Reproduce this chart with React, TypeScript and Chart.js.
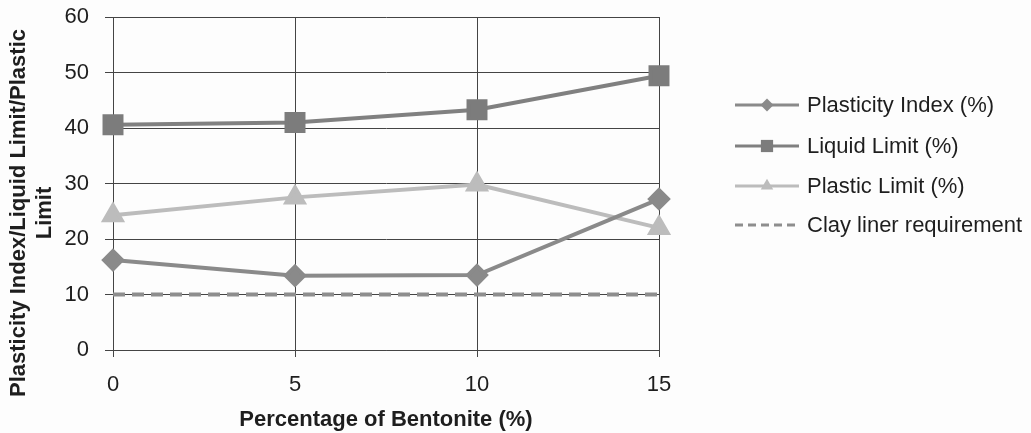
import React, { useEffect, useRef } from "react";
import { Chart, registerables } from "chart.js";

Chart.register(...registerables);

const bentonite = [0, 5, 10, 15];
const plasticityIndex = [16.2, 13.4, 13.5, 27.2];
const liquidLimit = [40.6, 41.0, 43.3, 49.4];
const plasticLimit = [24.3, 27.5, 29.8, 22.0];
const clayLiner = [10, 10, 10, 10];
const seriesNames = ["Plasticity Index (%)", "Liquid Limit (%)", "Plastic Limit (%)", "Clay liner requirement"];
const xTitle = "Percentage of Bentonite (%)";
const yTitle = ["Plasticity Index/Liquid Limit/Plastic", "Limit"];

const FONT = "'Liberation Sans', Arial, sans-serif";
const TEXT = "#1e1e1e";

const toPoints = (ys: number[]) => bentonite.map((x, i) => ({ x, y: ys[i] }));

const bgPlugin = {
  id: "bg",
  beforeDraw(chart: any) {
    const ctx = chart.ctx;
    ctx.save();
    ctx.fillStyle = "#fdfdfd";
    ctx.fillRect(0, 0, chart.width, chart.height);
    ctx.restore();
  },
};

const yTitlePlugin = {
  id: "yTitle",
  afterDraw(chart: any) {
    const ctx = chart.ctx;
    ctx.save();
    ctx.fillStyle = TEXT;
    ctx.font = `bold 22px ${FONT}`;
    ctx.textAlign = "center";
    ctx.textBaseline = "middle";
    const xs = [19, 45];
    yTitle.forEach((t, i) => {
      ctx.save();
      ctx.translate(xs[i], 213);
      ctx.rotate(-Math.PI / 2);
      ctx.fillText(t, 0, 0);
      ctx.restore();
    });
    ctx.restore();
  },
};

const legendPlugin = {
  id: "customLegend",
  afterDraw(chart: any) {
    const ctx = chart.ctx;
    const x0 = 735;
    const x1 = 799;
    const ys = [105, 146, 186, 225];
    ctx.save();
    chart.data.datasets.forEach((ds: any, i: number) => {
      const y = ys[i];
      ctx.strokeStyle = ds.borderColor;
      ctx.lineWidth = 3;
      ctx.setLineDash(ds.borderDash && ds.borderDash.length ? [8, 5] : []);
      ctx.beginPath();
      ctx.moveTo(x0, y);
      ctx.lineTo(x1, y);
      ctx.stroke();
      ctx.setLineDash([]);
      if (ds.pointRadius > 0) {
        const r = ds.pointRadius * 0.72;
        ctx.fillStyle = ds.pointBackgroundColor;
        ctx.beginPath();
        const cx = (x0 + x1) / 2;
        if (ds.pointStyle === "rectRot") {
          ctx.moveTo(cx - r, y);
          ctx.lineTo(cx, y - r);
          ctx.lineTo(cx + r, y);
          ctx.lineTo(cx, y + r);
        } else if (ds.pointStyle === "rect") {
          const s = r * Math.SQRT1_2;
          ctx.rect(cx - s, y - s, 2 * s, 2 * s);
        } else if (ds.pointStyle === "triangle") {
          ctx.moveTo(cx, y - r);
          ctx.lineTo(cx + r * 0.866, y + r * 0.5);
          ctx.lineTo(cx - r * 0.866, y + r * 0.5);
        }
        ctx.closePath();
        ctx.fill();
      }
      ctx.fillStyle = TEXT;
      ctx.font = `22px ${FONT}`;
      ctx.textAlign = "left";
      ctx.textBaseline = "middle";
      ctx.fillText(seriesNames[i], 807, y + 1);
    });
    ctx.restore();
  },
};

export default function App() {
  const ref = useRef<HTMLCanvasElement | null>(null);
  useEffect(() => {
    if (!ref.current) return;
    const chart = new Chart(ref.current, {
      type: "line",
      data: {
        datasets: [
          {
            label: seriesNames[0],
            data: toPoints(plasticityIndex),
            borderColor: "#8a8a8a",
            backgroundColor: "#8a8a8a",
            pointBackgroundColor: "#8a8a8a",
            pointBorderColor: "#8a8a8a",
            pointStyle: "rectRot",
            pointRadius: 9,
            borderWidth: 4,
            tension: 0,
            clip: false,
          },
          {
            label: seriesNames[1],
            data: toPoints(liquidLimit),
            borderColor: "#808080",
            backgroundColor: "#7c7c7c",
            pointBackgroundColor: "#7c7c7c",
            pointBorderColor: "#7c7c7c",
            pointStyle: "rect",
            pointRadius: 12,
            borderWidth: 4,
            tension: 0,
            clip: false,
          },
          {
            label: seriesNames[2],
            data: toPoints(plasticLimit),
            borderColor: "#bcbcbc",
            backgroundColor: "#bcbcbc",
            pointBackgroundColor: "#bcbcbc",
            pointBorderColor: "#bcbcbc",
            pointStyle: "triangle",
            pointRadius: 10,
            borderWidth: 4,
            tension: 0,
            clip: false,
          },
          {
            label: seriesNames[3],
            data: toPoints(clayLiner),
            borderColor: "#8e8e8e",
            backgroundColor: "#8e8e8e",
            borderDash: [12, 7],
            pointRadius: 0,
            borderWidth: 4,
            tension: 0,
            clip: false,
          },
        ],
      },
      options: {
        animation: false,
        responsive: true,
        maintainAspectRatio: false,
        layout: { autoPadding: false, padding: { top: 17, right: 372, left: 0, bottom: 0 } },
        plugins: {
          legend: { display: false },
          tooltip: { enabled: false },
        },
        scales: {
          x: {
            type: "linear",
            min: 0,
            max: 15,
            ticks: {
              stepSize: 5,
              color: TEXT,
              font: { family: FONT, size: 22 },
              padding: 15,
            },
            grid: { color: "#444", lineWidth: 1, tickLength: 7 },
            border: { color: "#444", width: 1 },
            title: {
              display: true,
              text: xTitle,
              color: TEXT,
              font: { family: FONT, size: 22, weight: "bold" },
              padding: { top: 3, bottom: 0 },
            },
            afterFit: (scale: any) => {
              scale.height = 83;
            },
          },
          y: {
            min: 0,
            max: 60,
            ticks: {
              stepSize: 10,
              color: TEXT,
              font: { family: FONT, size: 22 },
              padding: 16,
            },
            grid: { color: "#444", lineWidth: 1, tickLength: 8 },
            border: { color: "#444", width: 1 },
            title: { display: false },
            afterFit: (scale: any) => {
              scale.width = 113;
              scale.paddingTop = 0;
              scale.paddingBottom = 0;
            },
          },
        },
      },
      plugins: [bgPlugin, yTitlePlugin, legendPlugin],
    });
    return () => chart.destroy();
  }, []);
  return (
    <div style={{ position: "fixed", left: 0, top: 0, width: 1031, height: 433 }}>
      <canvas ref={ref} />
    </div>
  );
}
